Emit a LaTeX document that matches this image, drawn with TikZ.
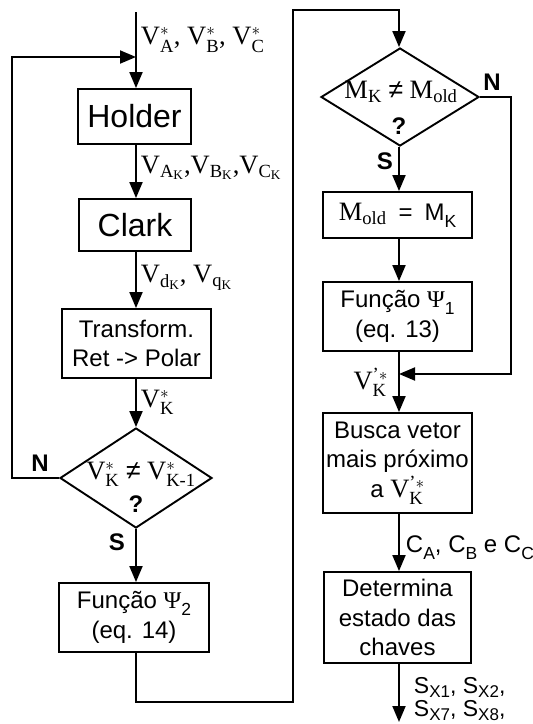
\documentclass[tikz,border=0pt]{standalone}
\usepackage{amsmath}
\usepackage{fontspec}
\setmainfont{Liberation Serif}
\setsansfont{Liberation Sans}
\usetikzlibrary{arrows.meta,shapes.geometric}
\newcommand{\rV}{\mathrm{V}}
\newcommand{\sbs}[1]{\raisebox{-0.28em}{\fontsize{17.5}{19}\selectfont #1}}
\newcommand{\sbx}[1]{\raisebox{-0.18em}{\fontsize{17}{19}\selectfont #1}}
\begin{document}
\begin{tikzpicture}[x=1pt,y=-1pt,
  line width=1.9pt,
  arr/.style={-{Triangle[length=16pt,width=13pt]}},
  box/.style={draw, rectangle, inner sep=0pt, font=\sffamily\fontsize{24}{29.5}\selectfont, align=center},
  bigbox/.style={draw, rectangle, inner sep=0pt, font=\sffamily\fontsize{32}{38}\selectfont},
  dia/.style={draw, diamond, inner sep=0pt},
  lbl/.style={inner sep=0pt, font=\fontsize{26.5}{30}\selectfont},
  slbl/.style={inner sep=0pt, font=\sffamily\fontsize{24}{28}\selectfont},
  xlbl/.style={inner sep=0pt, font=\sffamily\fontsize{23}{26}\selectfont},
  boldlbl/.style={inner sep=0pt, font=\sffamily\bfseries\fontsize{24}{28}\selectfont}]
\useasboundingbox (0,0) rectangle (533,724);
% left column
\node[bigbox, minimum width=113pt, minimum height=55pt] (hold) at (134.5,116.5) {Holder};
\node[bigbox, minimum width=112pt, minimum height=52pt] (clark) at (135,225) {Clark};
\node[box, minimum width=149pt, minimum height=69pt] (tr) at (136.5,343.5) {Transform.\\Ret -> Polar};
\node[dia, minimum width=152pt, minimum height=100pt] (d1) at (136,478) {};
\node[lbl] (d1t) at (141,474) {$\rV^*_{\mathrm{K}}$ {\sffamily ≠} $\rV^*_{\text{K-1}}$};
\node[boldlbl] (d1q) at (136,504) {?};
\node[box, minimum width=150pt, minimum height=69pt] (psi2) at (134,617.5) {Função {\rmfamily Ψ}\sbs{2}\\(eq. 14)};
% right column
\node[dia, minimum width=158pt, minimum height=98pt] (d2) at (400,97) {};
\node[lbl] (d2t) at (401,92) {$\mathrm{M}_{\mathrm{K}}$ {\sffamily ≠} $\mathrm{M}_{\mathrm{old}}$};
\node[boldlbl] (d2q) at (399,126) {?};
\node[box, minimum width=149pt, minimum height=46pt] (mold) at (397.5,215) {{\rmfamily\fontsize{26.5}{30}\selectfont$\mathrm{M}_{\mathrm{old}}$}\enspace=\enspace M\sbs{K}};
\node[box, minimum width=149pt, minimum height=69pt] (psi1) at (397.5,316.5) {Função {\rmfamily Ψ}\sbs{1}\\(eq. 13)};
\node[box, minimum width=149pt, minimum height=100pt] (busca) at (397.5,463) {Busca vetor\\mais próximo\\a {\rmfamily\fontsize{26.5}{30}\selectfont$\rV^{\text{’}*}_{\mathrm{K}}$}};
\node[box, minimum width=147pt, minimum height=91pt] (det) at (397.5,617.5) {Determina\\estado das\\chaves};
% coordinates
\coordinate (top) at (136,12);
\coordinate (fbA) at (12,478);
\coordinate (fbB) at (12,57);
\coordinate (fbC) at (136,57);
\coordinate (lp1) at (136,702);
\coordinate (lp2) at (293,702);
\coordinate (lp3) at (293,10);
\coordinate (lp4) at (399,10);
\coordinate (nA) at (511,97);
\coordinate (nB) at (511,374);
\coordinate (nC) at (399,374);
\coordinate (fin) at (399,722);
% connectors
\draw[arr] (top) -- (top |- hold.north);
\draw[arr] (d1.west) -- (fbA) -- (fbB) -- (fbC);
\draw[arr] (top |- hold.south) -- (top |- clark.north);
\draw[arr] (top |- clark.south) -- (top |- tr.north);
\draw[arr] (top |- tr.south) -- (d1.north);
\draw[arr] (d1.south) -- (top |- psi2.north);
\draw[arr] (top |- psi2.south) -- (lp1) -- (lp2) -- (lp3) -- (lp4) -- (lp4 |- d2.north);
\draw[arr] (d2.east) -- (nA) -- (nB) -- (nC);
\draw[arr] (lp4 |- d2.south) -- (lp4 |- mold.north);
\draw[arr] (lp4 |- mold.south) -- (lp4 |- psi1.north);
\draw[arr] (lp4 |- psi1.south) -- (lp4 |- busca.north);
\draw[arr] (lp4 |- busca.south) -- (lp4 |- det.north);
\draw[arr] (lp4 |- det.south) -- (fin);
% labels
\node[lbl, anchor=west] (l1) at (140,40) {$\rV^*_{\mathrm{A}}$, $\rV^*_{\mathrm{B}}$, $\rV^*_{\mathrm{C}}$};
\node[lbl, anchor=west] (l2) at (140,168) {$\rV_{\mathrm{A}_\mathrm{K}}$,$\rV_{\mathrm{B}_\mathrm{K}}$,$\rV_{\mathrm{C}_\mathrm{K}}$};
\node[lbl, anchor=west] (l3) at (140,278) {$\rV_{\mathrm{d}_\mathrm{K}}$, $\rV_{\mathrm{q}_\mathrm{K}}$};
\node[lbl, anchor=west] (l4) at (140,402) {$\rV^*_{\mathrm{K}}$};
\node[boldlbl] (n1) at (40,463) {N};
\node[boldlbl] (s1) at (117,542) {S};
\node[boldlbl] (n2) at (492,82) {N};
\node[boldlbl] (s2) at (385,161) {S};
\node[lbl, anchor=east] (l5) at (389,382) {$\rV^{\text{’}*}_{\mathrm{K}}$};
\node[slbl, anchor=west] (l6) at (405,548) {C\sbs{A}, C\sbs{B} e C\sbs{C}};
\node[xlbl, anchor=base west] (l7a) at (413,693) {S\sbx{X1}, S\sbx{X2},};
\node[xlbl, anchor=base west] (l7b) at (413,716) {S\sbx{X7}, S\sbx{X8},};
\end{tikzpicture}
\end{document}
